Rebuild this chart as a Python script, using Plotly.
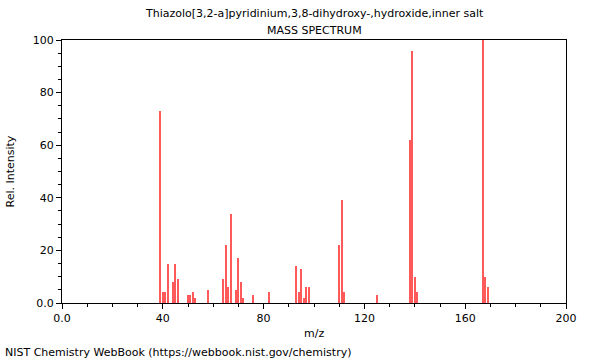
import plotly.graph_objects as go

mz = [39, 40, 41, 42, 44, 45, 46, 50, 51, 52, 53, 58, 64, 65, 66, 67, 69, 70, 71, 72,
      76, 82, 93, 94, 95, 96, 97, 98, 110, 111, 112, 125, 138, 139, 140, 141, 167, 168, 169]
intensity = [73, 4, 4, 15, 8, 15, 9, 3, 3, 4, 2, 5, 9, 22, 6, 34, 5, 17, 8, 2,
             3, 4, 14, 4, 13, 2, 6, 6, 22, 39, 4, 3, 62, 96, 10, 4, 100, 10, 6]

x_tickvals = [0, 40, 80, 120, 160, 200]
x_ticktext = ["0.0", "40", "80", "120", "160", "200"]
y_tickvals = [0, 20, 40, 60, 80, 100]
y_ticktext = ["0.0", "20", "40", "60", "80", "100"]

title_line1 = "Thiazolo[3,2-a]pyridinium,3,8-dihydroxy-,hydroxide,inner salt"
title_line2 = "MASS SPECTRUM"
x_title = "m/z"
y_title = "Rel. Intensity"
footer = "NIST Chemistry WebBook (https://webbook.nist.gov/chemistry)"

font = "DejaVu Sans"

fig = go.Figure()
fig.add_trace(go.Bar(x=mz, y=intensity, width=0.45,
                     marker=dict(color="#ff5a5a", line=dict(width=0))))

fig.update_layout(
    width=600, height=360,
    margin=dict(l=62, r=34, t=40, b=57),
    paper_bgcolor="white", plot_bgcolor="white",
    font=dict(family=font, size=11, color="black"),
    showlegend=False,
    bargap=0,
)
fig.update_xaxes(
    range=[0, 200], tickvals=x_tickvals, ticktext=x_ticktext, automargin=False,
    showline=True, linecolor="black", linewidth=1, mirror=True,
    ticks="outside", ticklen=5, tickcolor="black", showgrid=False, zeroline=False,
    minor=dict(dtick=10, tick0=0, ticks="outside", ticklen=3, tickcolor="black", showgrid=False),
    tickfont=dict(size=11),
)
fig.update_yaxes(
    range=[0, 100], tickvals=y_tickvals, ticktext=y_ticktext, automargin=False,
    showline=True, linecolor="black", linewidth=1, mirror=True,
    ticks="outside", ticklen=5, tickcolor="black", showgrid=False, zeroline=False,
    minor=dict(dtick=5, tick0=0, ticks="outside", ticklen=3, tickcolor="black", showgrid=False),
    tickfont=dict(size=11),
)
fig.add_annotation(text=title_line1, xref="paper", yref="paper", x=0.5, y=1,
                   yshift=27, showarrow=False, xanchor="center", yanchor="middle",
                   font=dict(size=11))
fig.add_annotation(text=title_line2, xref="paper", yref="paper", x=0.5, y=1,
                   yshift=10, showarrow=False, xanchor="center", yanchor="middle",
                   font=dict(size=11))
fig.add_annotation(text=x_title, xref="paper", yref="paper", x=0.5, y=0,
                   yshift=-30, showarrow=False, xanchor="center", yanchor="middle",
                   font=dict(size=11))
fig.add_annotation(text=y_title, xref="paper", yref="paper", x=0, y=0.5,
                   xshift=-52, showarrow=False, xanchor="center", yanchor="middle",
                   textangle=-90, font=dict(size=11))
fig.add_annotation(text=footer, xref="paper", yref="paper", x=0, y=0,
                   xshift=-59, yshift=-49, showarrow=False, xanchor="left", yanchor="middle",
                   font=dict(size=11))

fig.write_html("out.html")
